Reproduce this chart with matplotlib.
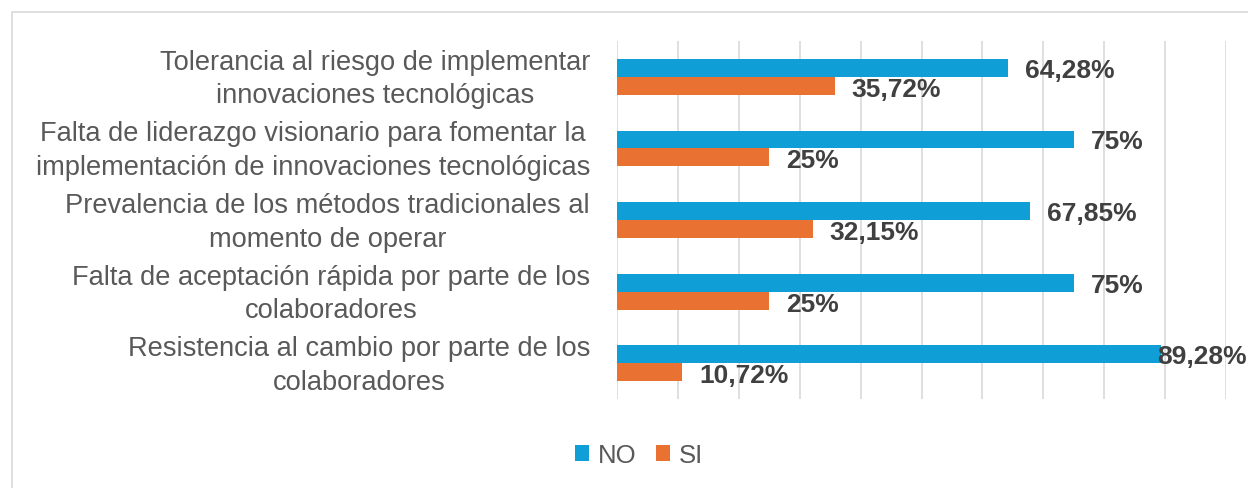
import numpy as np
import matplotlib.pyplot as plt
import matplotlib.transforms as mtransforms
from matplotlib.patches import Rectangle

# Data
categories = [
    "Tolerancia al riesgo de implementar\ninnovaciones tecnológicas",
    "Falta de liderazgo visionario para fomentar la\nimplementación de innovaciones tecnológicas",
    "Prevalencia de los métodos tradicionales al\nmomento de operar",
    "Falta de aceptación rápida por parte de los\ncolaboradores",
    "Resistencia al cambio por parte de los\ncolaboradores",
]
no_values = [64.28, 75, 67.85, 75, 89.28]
si_values = [35.72, 25, 32.15, 25, 10.72]
no_labels = ["64,28%", "75%", "67,85%", "75%", "89,28%"]
si_labels = ["35,72%", "25%", "32,15%", "25%", "10,72%"]

plt.rcParams['font.family'] = ['Liberation Sans', 'DejaVu Sans']

blue = '#0F9ED5'
orange = '#E97132'

fig = plt.figure(figsize=(12.48, 4.89), dpi=100)
ax = fig.add_axes([617 / 1248, 1 - 400 / 489, 609 / 1248, 358 / 489])

# chart area border
fig.patches.append(Rectangle((12 / 1248, -0.1), 1.2, 1 - 13 / 489 + 0.1,
                             transform=fig.transFigure, fill=False,
                             edgecolor='#D9D9D9', linewidth=1.2))

y = np.arange(len(categories))
h = 0.25
ax.barh(y - h / 2, no_values, height=h, color=blue, label='NO')
ax.barh(y + h / 2, si_values, height=h, color=orange, label='SI')

for i in range(len(categories)):
    dx = 17 if no_values[i] < 85 else -4
    ax.annotate(no_labels[i], (no_values[i], y[i] - h / 2), xytext=(dx, -2),
                textcoords='offset pixels', annotation_clip=False,
                va='center', ha='left', fontsize=19, fontweight='bold', color='#404040')
    ax.annotate(si_labels[i], (si_values[i], y[i] + h / 2), xytext=(17, -3),
                textcoords='offset pixels',
                va='center', ha='left', fontsize=19, fontweight='bold', color='#404040')

ax.set_xlim(0, 100)
ax.set_ylim(4.5, -0.5)
ax.set_xticks(np.arange(0, 101, 10))
ax.xaxis.grid(True, color='#D9D9D9', linewidth=1.2)
ax.set_axisbelow(True)
ax.tick_params(axis='x', length=0, labelbottom=False)
ax.tick_params(axis='y', length=0, pad=27)
ax.set_yticks(y)
ax.set_yticklabels(categories, fontsize=19.6, color='#595959', linespacing=1.38)
for s in ax.spines.values():
    s.set_visible(False)

# center multi-line labels under their own block
fig.canvas.draw()
renderer = fig.canvas.get_renderer()
labels = ax.get_yticklabels()
widths = [t.get_window_extent(renderer).width for t in labels]
lab_tr = mtransforms.offset_copy(ax.get_yaxis_transform(), fig=fig, y=5, units='dots')
for t, w in zip(labels, widths):
    t.set_horizontalalignment('center')
    t.set_multialignment('center')
    t.set_transform(lab_tr)
    t.set_position((-(w / 2 + 27) / 609, t.get_position()[1]))

leg = fig.legend(loc='center', bbox_to_anchor=(639 / 1248, 1 - 456 / 489), ncol=2,
                 frameon=False, fontsize=18.5, handlelength=0.55, handleheight=0.55,
                 handletextpad=0.35, columnspacing=0.75, labelcolor='#595959')

fig.savefig('out.png', dpi=100)
